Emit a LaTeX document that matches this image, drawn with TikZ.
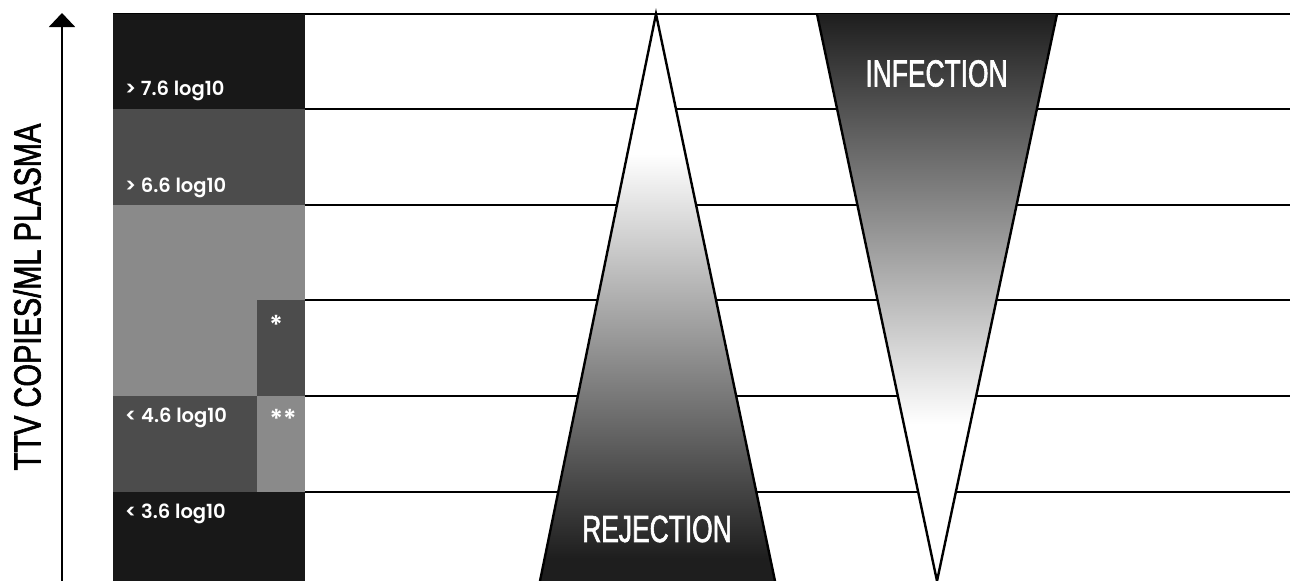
\documentclass[tikz,border=0pt]{standalone}
\usepackage{fontspec}
\setmainfont{Poppins}
\IfFontExistsTF{Poppins SemiBold}
	{\newfontfamily\lblfont{Poppins SemiBold}}
	{\newfontfamily\lblfont[FakeBold=2]{Poppins}}
\newfontfamily\condfont[FakeStretch=0.70,FakeBold=1.6]{Liberation Sans}
\newfontfamily\axisfont[FakeStretch=0.77,FakeBold=1.6]{Liberation Sans}
\usetikzlibrary{arrows.meta}

\definecolor{cellblack}{HTML}{181818}
\definecolor{celldark}{HTML}{4C4C4C}
\definecolor{celllight}{HTML}{8A8A8A}
\definecolor{shadedark}{HTML}{1E1E1E}

\pgfdeclareverticalshading{rejshade}{100bp}{color(0bp)=(shadedark); color(27bp)=(shadedark); color(62.7bp)=(white); color(100bp)=(white)}
\pgfdeclareverticalshading{infshade}{100bp}{color(0bp)=(white); color(38.8bp)=(white); color(75bp)=(shadedark); color(100bp)=(shadedark)}

\begin{document}
\begin{tikzpicture}[
	x=1pt, y=-1pt,
	lbl/.style={text=white, anchor=west, inner sep=0pt, font=\lblfont\fontsize{19.5}{22}\selectfont},
	star/.style={text=white, inner sep=0pt, font=\lblfont\fontsize{26}{30}\selectfont},
	title/.style={text=white, inner sep=0pt, font=\condfont\fontsize{37.7}{40}\selectfont},
	gridline/.style={black, line width=1.4pt},
	tri/.style={draw=black, line width=2.4pt, line join=miter}
	]
	\useasboundingbox (0,0) rectangle (1294,581);
	
	%-----------------------
	% Row boundaries
	%-----------------------
	\def\ya{14}     % top
	\def\yb{109}    % > 7.6 / > 6.6
	\def\yc{205}    % > 6.6 / grey band
	\def\yd{300}    % inner box top (*)
	\def\ye{396}    % < 4.6 top
	\def\yf{492}    % < 3.6 top
	\def\yg{581}    % bottom
	
	%-----------------------
	% Horizontal lines
	%-----------------------
	\draw[gridline] (113,\ya) -- (1290,\ya);
	\draw[gridline] (305,\yb) -- (1290,\yb);
	\draw[gridline] (305,\yc) -- (1290,\yc);
	\draw[gridline] (305,\yd) -- (1290,\yd);
	\draw[gridline] (305,\ye) -- (1290,\ye);
	\draw[gridline] (305,\yf) -- (1290,\yf);
	
	%-----------------------
	% Level column
	%-----------------------
	\fill[cellblack] (113,\ya) rectangle (305,\yb);
	\fill[celldark]  (113,\yb) rectangle (305,\yc);
	\fill[celllight] (113,\yc) rectangle (305,\ye);
	\fill[celldark]  (257,\yd) rectangle (305,\ye);
	\fill[celldark]  (113,\ye) rectangle (257,\yf);
	\fill[celllight] (257,\ye) rectangle (305,\yf);
	\fill[cellblack] (113,\yf) rectangle (305,\yg);
	
	\node[lbl] (l76) at (125,91)  {> 7.6 log10};
	\node[lbl] (l66) at (125,188) {> 6.6 log10};
	\node[lbl] (l46) at (125,418) {< 4.6 log10};
	\node[lbl] (l36) at (125,514) {< 3.6 log10};
	\node[star] (s1) at (276,325) {*};
	\node[star] (s2) at (283,419) {**};
	
	%-----------------------
	% Rejection triangle
	%-----------------------
	\coordinate (rejtop) at (656,\ya);
	\coordinate (rejleft) at (540,\yg);
	\coordinate (rejright) at (775,\yg);
	\shade[shading=rejshade] (rejtop) -- (rejright) -- (rejleft) -- cycle;
	\draw[tri] (rejleft) -- (rejtop) -- (rejright);
	\node[title] (rej) at (657,529) {REJECTION};
	
	%-----------------------
	% Infection triangle
	%-----------------------
	\coordinate (infleft) at (817,\ya);
	\coordinate (infright) at (1057,\ya);
	\coordinate (infbot) at (937,\yg);
	\shade[shading=infshade] (infleft) -- (infright) -- (infbot) -- cycle;
	\draw[tri] (infleft) -- (infbot) -- (infright);
	\node[title] (inf) at (936.5,73.5) {INFECTION};
	
	%-----------------------
	% Axis
	%-----------------------
	\coordinate (axbot) at (62,\yg);
	\coordinate (axtop) at (62,13);
	\draw[-{Triangle[width=26pt,length=14pt]}, line width=2pt] (axbot) -- (axtop);
	\node[rotate=90, inner sep=0pt, font=\axisfont\fontsize{37.7}{40}\selectfont] (ylab) at (27,297) {TTV COPIES/ML PLASMA};
	
\end{tikzpicture}
\end{document}
